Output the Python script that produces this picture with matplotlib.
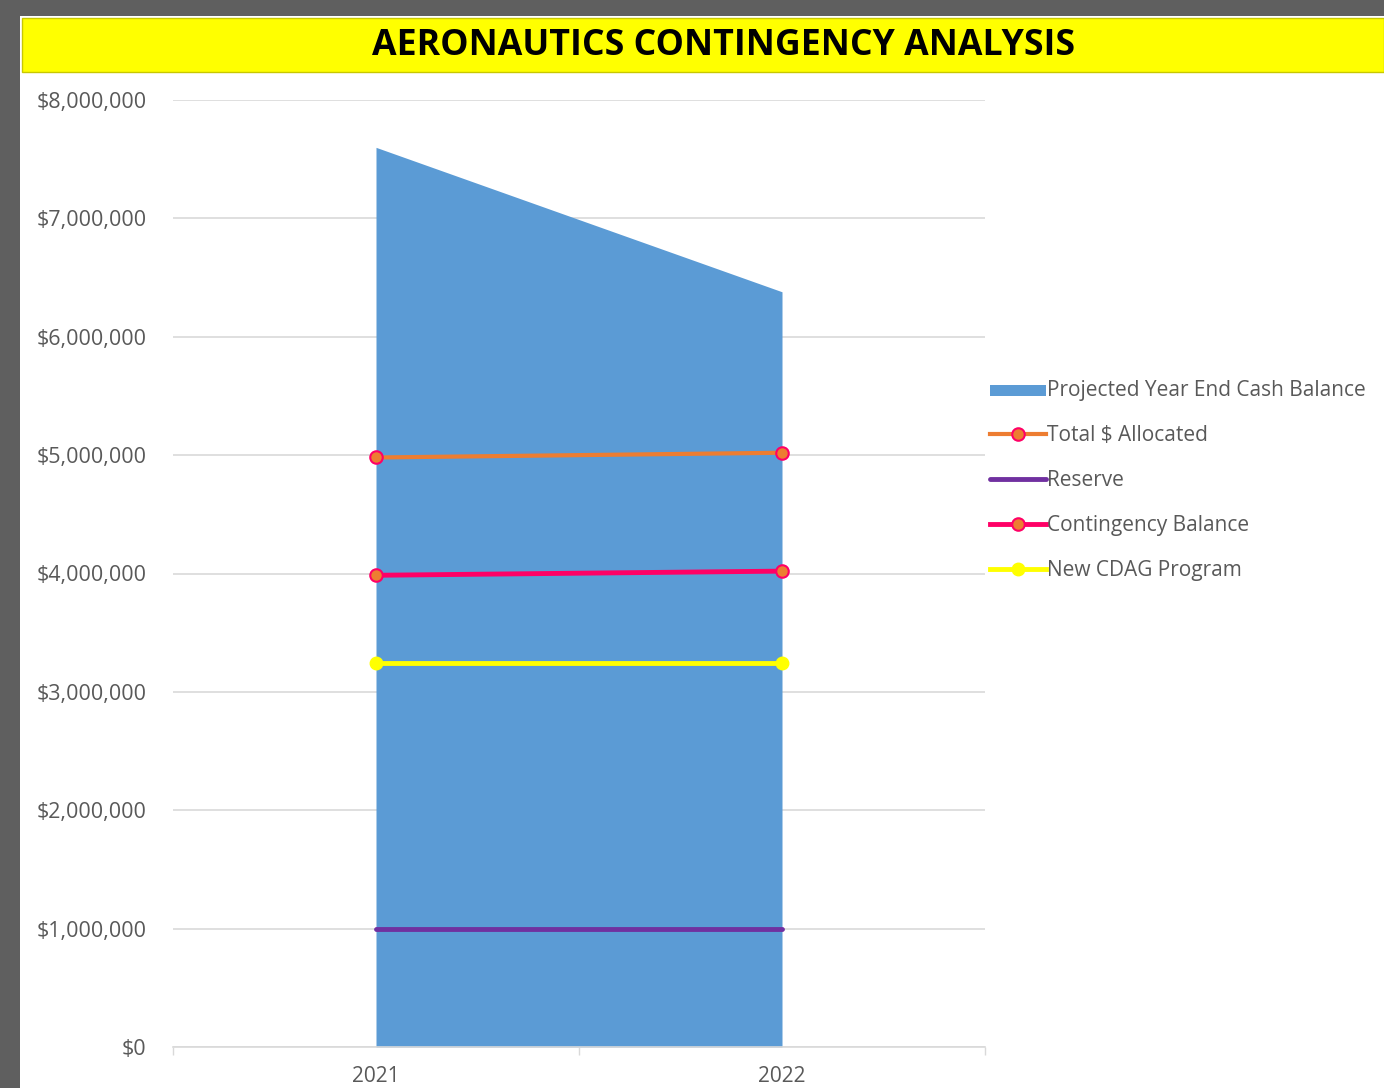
import matplotlib.pyplot as plt
from matplotlib.patches import Rectangle
from matplotlib.ticker import FuncFormatter, FixedLocator

years = ["2021", "2022"]
cash_balance = [7600000, 6380000]
total_allocated = [4980000, 5020000]
reserve = [1000000, 1000000]
contingency = [3985000, 4020000]
new_cdag = [3240000, 3240000]

TEXT_GRAY = "#595959"
FONT = ["Open Sans", "DejaVu Sans"]

fig = plt.figure(figsize=(13.84, 10.88), dpi=100)
fig.patch.set_facecolor("#5f5f5f")

# white chart area and yellow title band
fig.patches.append(Rectangle((20 / 1384, 0), 1 - 20 / 1384, 1 - 16 / 1088,
                             transform=fig.transFigure, facecolor="white",
                             edgecolor="none", zorder=-2))
fig.patches.append(Rectangle((22 / 1384, 1 - 72 / 1088), 1 - 22 / 1384, 54 / 1088,
                             transform=fig.transFigure, facecolor="#ffff00",
                             edgecolor="#c8c800", linewidth=1, zorder=-1))
fig.text(724 / 1384, 1 - 46 / 1088, "AERONAUTICS CONTINGENCY ANALYSIS",
         ha="center", va="center", fontsize=25.7, fontweight="bold",
         family=FONT, color="black")

ax = fig.add_axes([173 / 1384, 1 - 1047 / 1088, (985 - 173) / 1384, (1047 - 100) / 1088])
ax.set_facecolor("none")
ax.set_zorder(2)

x = [0.5, 1.5]
ax.fill_between(x, 0, cash_balance, color="#5b9bd5", linewidth=0, zorder=2,
                label="Projected Year End Cash Balance")
ax.plot(x, total_allocated, color="#ed7d31", lw=3, marker="o", ms=9,
        mfc="#ed7d31", mec="#ff0066", mew=1.5, zorder=4, label="Total $ Allocated")
ax.plot(x, reserve, color="#7030a0", lw=3.5, zorder=4, solid_capstyle="round",
        label="Reserve")
ax.plot(x, contingency, color="#ff0066", lw=3.5, marker="o", ms=9,
        mfc="#ed7d31", mec="#ff0066", mew=1.5, zorder=4, label="Contingency Balance")
ax.plot(x, new_cdag, color="#ffff00", lw=3.5, marker="o", ms=9,
        mfc="#ffff00", mec="#ffff00", zorder=4, label="New CDAG Program")

ax.set_xlim(0, 2)
ax.set_ylim(0, 8000000)
ax.yaxis.set_major_locator(FixedLocator(range(0, 8000001, 1000000)))
ax.yaxis.set_major_formatter(FuncFormatter(lambda v, p: f"${v:,.0f}"))
ax.grid(axis="y", color="#d9d9d9", linewidth=1.2, zorder=1)
ax.set_axisbelow(True)

ax.set_xticks([0, 1, 2])
ax.set_xticklabels([])
ax.set_xticks(x, minor=True)
ax.set_xticklabels(years, minor=True)
ax.tick_params(axis="x", which="major", length=6, color="#d9d9d9", width=1)
ax.tick_params(axis="x", which="minor", length=0, pad=14, labelsize=15, labelcolor=TEXT_GRAY)
ax.tick_params(axis="y", length=0, pad=19, labelsize=15.5, labelcolor=TEXT_GRAY)
for lbl in ax.get_yticklabels() + ax.get_xticklabels(minor=True):
    lbl.set_family(FONT)

for side in ["top", "right", "left"]:
    ax.spines[side].set_visible(False)
ax.spines["bottom"].set_color("#d9d9d9")
ax.spines["bottom"].set_linewidth(1.2)

leg = ax.legend(loc="upper left", bbox_to_anchor=(982 / 1384, 1 - 372 / 1088),
                bbox_transform=fig.transFigure, frameon=False,
                labelcolor=TEXT_GRAY, prop={"family": FONT, "size": 15},
                handlelength=2.65, handletextpad=0.05, labelspacing=1.15,
                borderaxespad=0)
for h in leg.legend_handles[:1]:
    h.set_height(8)

fig.savefig("out.png", dpi=100, facecolor=fig.get_facecolor())
